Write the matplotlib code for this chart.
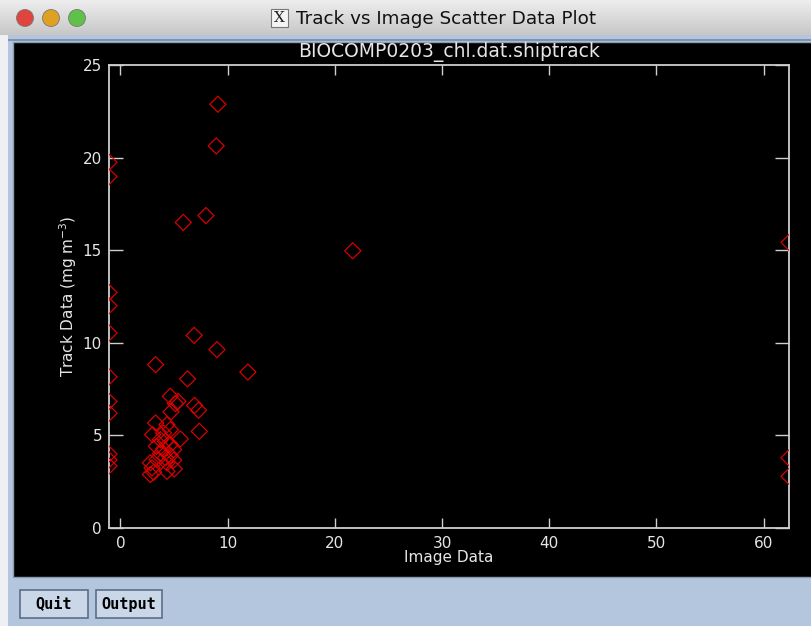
import matplotlib
matplotlib.use('Agg')
import matplotlib.pyplot as plt
from matplotlib.patches import Rectangle, Circle
import numpy as np

W, H = 811, 626

# data (points on the frame edges are clipped there)
x_limits = [-1.07, 62.36]
y_limits = [0, 25]
x_ticks = [0, 10, 20, 30, 40, 50, 60]
y_ticks = [0, 5, 10, 15, 20, 25]

image_data = [-1.07, -1.07, -1.07, -1.07, -1.07, -1.07, -1.07, -1.07, -1.07, -1.07, -1.07,
              62.36, 62.36, 62.36,
              9.09, 8.93, 7.97, 5.86, 21.67,
              6.88, 9.0, 3.28, 11.88, 6.26, 4.65, 5.36, 5.12, 4.71, 6.91, 7.29, 7.35,
              3.28, 3.0, 4.34, 4.65, 4.03, 5.58, 3.72, 4.19, 3.35, 4.03, 4.65, 4.96,
              2.79, 3.41, 4.19, 4.65, 4.96, 4.34, 5.02, 2.95, 2.79, 3.1, 4.34, 3.72]
track_data = [19.75, 18.97, 12.72, 12.0, 10.53, 8.16, 6.83, 6.2, 3.99, 3.68, 3.35,
              15.42, 3.79, 2.79,
              22.88, 20.63, 16.87, 16.5, 14.97,
              10.4, 9.63, 8.82, 8.42, 8.05, 7.11, 6.84, 6.72, 6.27, 6.62, 6.36, 5.22,
              5.67, 5.04, 5.58, 5.31, 5.13, 4.81, 4.77, 4.68, 4.41, 4.27, 4.5, 4.23,
              3.52, 3.69, 3.79, 3.91, 3.66, 3.52, 3.19, 3.25, 2.89, 3.01, 3.06, 4.02]

window_title = 'Track vs Image Scatter Data Plot'
plot_title = 'BIOCOMP0203_chl.dat.shiptrack'


def fr(x, y, w, h):
    # pixel box (top-left origin) -> figure fraction box
    return [x / W, 1 - (y + h) / H, w / W, h / H]


def add_rect(x, y, w, h, **kw):
    x0, y0, w0, h0 = fr(x, y, w, h)
    r = Rectangle((x0, y0), w0, h0, transform=fig.transFigure, zorder=-5, **kw)
    fig.patches.append(r)
    return r


fig = plt.figure(figsize=(W / 100, H / 100), dpi=100)
fig.patch.set_facecolor('#b3c6de')

# window title bar with gradient
tb = fig.add_axes(fr(0, 0, W, 35))
grad = np.linspace(0.93, 0.78, 64).reshape(-1, 1)
tb.imshow(grad, cmap='gray', vmin=0, vmax=1, aspect='auto', extent=[0, W, 35, 0])
tb.set_xlim(0, W)
tb.set_ylim(35, 0)
tb.axis('off')
for cx, c in zip([25, 51, 77], ['#e0443e', '#dea123', '#5fc04a']):
    tb.add_patch(Circle((cx, 18), 8.5, facecolor=c, edgecolor='#7a7a7a', lw=0.6))
tb.add_patch(Rectangle((271, 9), 17, 18, facecolor='#f4f4f4', edgecolor='#777777', lw=0.8))
tb.text(279.5, 18.5, 'X', ha='center', va='center', fontsize=11, family='DejaVu Serif', color='#222222')
tb.text(296, 18.5, window_title, ha='left', va='center', fontsize=13.2, color='#111111')

# window frame strips
add_rect(0, 35, 8, H - 35, facecolor='#eef0f3', edgecolor='none')
add_rect(8, 39, W, 2, facecolor='#7f93ad', edgecolor='none')
add_rect(13, 42, W, 535, facecolor='black', edgecolor='#8a9ab0', lw=1)

# buttons
for bx, bw, lab in [(20, 68, 'Quit'), (96, 66, 'Output')]:
    r = add_rect(bx, 590, bw, 28, facecolor='#c9d7e8', edgecolor='#5d6f86', lw=1.2)
    x0, y0, w0, h0 = fr(bx, 590, bw, 28)
    fig.text(x0 + w0 / 2, y0 + h0 / 2, lab, ha='center', va='center', fontsize=11,
             family='DejaVu Sans Mono', weight='bold', color='black')

# the plot
ax = fig.add_axes(fr(109, 65, 680, 463))
ax.set_facecolor('black')
ax.scatter(image_data, track_data, marker='D', s=8.2 ** 2, facecolors='none',
           edgecolors='#e00000', linewidths=0.85, zorder=3)
ax.set_xlim(x_limits)
ax.set_ylim(y_limits)
ax.set_xticks(x_ticks)
ax.set_yticks(y_ticks)
fc = '#e6e6e6'
for s in ax.spines.values():
    s.set_color('#cfcfcf')
    s.set_linewidth(1.3)
ax.tick_params(axis='x', direction='in', length=7.2, width=1, color='#cfcfcf',
               top=True, labelcolor=fc, labelsize=11, pad=6)
ax.tick_params(axis='y', direction='in', length=10, width=1, color='#cfcfcf',
               right=True, labelcolor=fc, labelsize=11, pad=5)
ax.set_xlabel('Image Data', color=fc, fontsize=11, labelpad=-1)
ax.set_ylabel('Track Data (mg m$^{-3}$)', color=fc, fontsize=11, labelpad=3)
ax.set_title(plot_title, color=fc, fontsize=13.5, pad=6)

fig.savefig('out.png', dpi=100, facecolor=fig.get_facecolor())
